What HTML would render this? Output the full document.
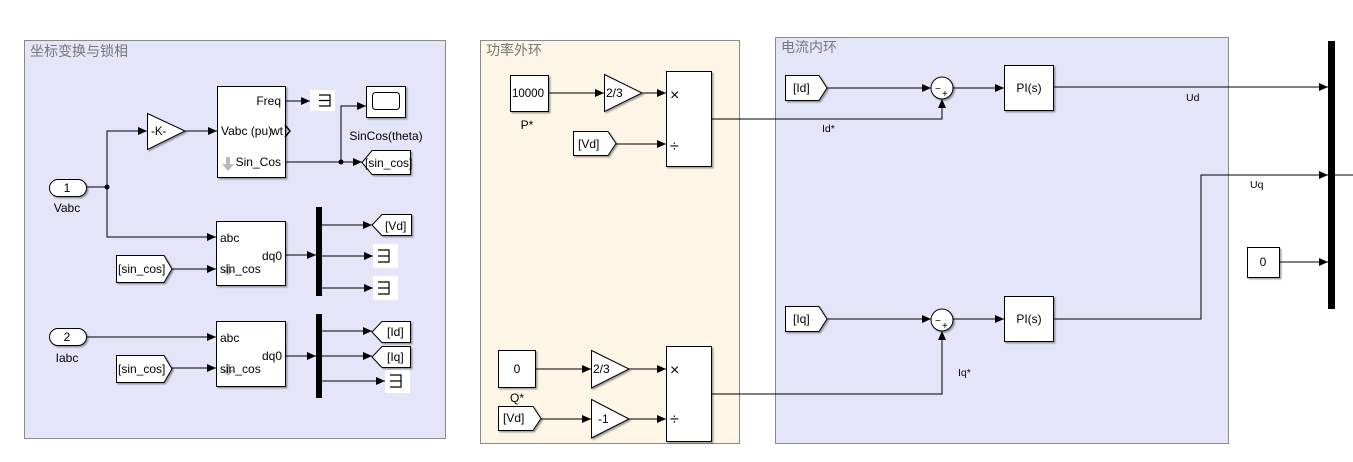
<!DOCTYPE html>
<html><head><meta charset="utf-8"><style>
html,body{margin:0;padding:0;background:#fff;}
svg{display:block;font-family:"Liberation Sans","Noto Sans CJK SC",sans-serif;}
</style></head><body>
<svg width="1353" height="462" viewBox="0 0 1353 462" xmlns="http://www.w3.org/2000/svg">
<defs>
<marker id="a" markerWidth="9" markerHeight="8" refX="9" refY="4" orient="auto" markerUnits="userSpaceOnUse"><path d="M0,0 L9,4 L0,8 z" fill="#000"/></marker>
<filter id="sh" x="-10%" y="-10%" width="130%" height="130%"><feDropShadow dx="1.5" dy="1.5" stdDeviation="0.8" flood-color="#000" flood-opacity="0.35"/></filter>
</defs>
<rect x="24.5" y="40.5" width="421" height="398" fill="#e5e5fa" stroke="#8a8a8a"/>
<text x="30" y="56" font-size="14" fill="#777">坐标变换与锁相</text>
<rect x="480.5" y="40.5" width="259" height="403" fill="#fdf5e6" stroke="#8a8a8a"/>
<text x="486" y="55" font-size="14" fill="#777">功率外环</text>
<rect x="775.5" y="37.5" width="453" height="406" fill="#e5e5fa" stroke="#8a8a8a"/>
<text x="781" y="52" font-size="14" fill="#777">电流内环</text>

<g stroke="#000" stroke-width="1" fill="none">
<path d="M86,187 H107 V131 H147" marker-end="url(#a)"/>
<path d="M107,187 V237 H216" marker-end="url(#a)"/>
<path d="M185,131 H217" marker-end="url(#a)"/>
<path d="M285,101 H310" marker-end="url(#a)"/>
<path d="M285,162 H362" marker-end="url(#a)"/>
<path d="M341,162 V106 H366" marker-end="url(#a)"/>
<path d="M172,269 H216" marker-end="url(#a)"/>
<path d="M285,255 H316" marker-end="url(#a)"/>
<path d="M322,225 H372" marker-end="url(#a)"/>
<path d="M322,256 H373" marker-end="url(#a)"/>
<path d="M322,288 H373" marker-end="url(#a)"/>
<path d="M86,337 H216" marker-end="url(#a)"/>
<path d="M172,368 H216" marker-end="url(#a)"/>
<path d="M285,356 H316" marker-end="url(#a)"/>
<path d="M322,331 H372" marker-end="url(#a)"/>
<path d="M322,356 H372" marker-end="url(#a)"/>
<path d="M322,381 H385" marker-end="url(#a)"/>
<path d="M548,93 H604" marker-end="url(#a)"/>
<path d="M642,93 H666" marker-end="url(#a)"/>
<path d="M616,144 H666" marker-end="url(#a)"/>
<path d="M711,119 H942 V99" marker-end="url(#a)"/>
<path d="M535,369 H591" marker-end="url(#a)"/>
<path d="M629,369 H666" marker-end="url(#a)"/>
<path d="M541,419 H591" marker-end="url(#a)"/>
<path d="M629,419 H666" marker-end="url(#a)"/>
<path d="M711,394 H942 V331" marker-end="url(#a)"/>
<path d="M827,88 H931" marker-end="url(#a)"/>
<path d="M953,88 H1004" marker-end="url(#a)"/>
<path d="M1053,87 H1328" marker-end="url(#a)"/>
<path d="M827,319 H931" marker-end="url(#a)"/>
<path d="M953,319 H1004" marker-end="url(#a)"/>
<path d="M1053,319 H1201 V175 H1328" marker-end="url(#a)"/>
<path d="M1335,175 H1353"/>
<path d="M1279,262 H1328" marker-end="url(#a)"/>
</g>
<circle cx="107" cy="187" r="2.5"/>
<circle cx="341" cy="162" r="2.5"/>

<g fill="#fff" stroke="#000" stroke-width="1" filter="url(#sh)">
<rect x="49.5" y="179.5" width="37" height="17" rx="8.5"/>
<rect x="49.5" y="328.5" width="37" height="17" rx="8.5"/>
<path d="M147.5,113.5 L185,131 L147.5,149.5 z"/>
<rect x="217.5" y="86.5" width="68" height="91"/>
<rect x="366.5" y="86.5" width="39" height="31"/>
<path d="M372,150.5 H410.5 V174.5 H372 L362,162.5 z"/>
<rect x="216.5" y="221.5" width="69" height="64"/>
<rect x="216.5" y="321.5" width="69" height="65"/>
<path d="M116.5,255.5 H164 L172,269 L164,282.5 H116.5 z"/>
<path d="M116.5,355.5 H164 L172,369 L164,382.5 H116.5 z"/>
<path d="M382,214.5 H411.5 V235.5 H382 L372,225 z"/>
<path d="M382,321.5 H410.5 V342.5 H382 L372,332 z"/>
<path d="M382,346.5 H410.5 V367.5 H382 L372,357 z"/>
<rect x="510.5" y="75.5" width="38" height="36"/>
<path d="M604.5,74.5 L642,93 L604.5,111.5 z"/>
<rect x="666.5" y="71.5" width="45" height="95"/>
<path d="M573.5,131.5 H608 L616,143.5 L608,155.5 H573.5 z"/>
<rect x="498.5" y="350.5" width="37" height="37"/>
<path d="M591.5,350.5 L629,369 L591.5,388 z"/>
<path d="M498.5,406.5 H533 L541,418.5 L533,430.5 H498.5 z"/>
<path d="M591.5,399.5 L629,419 L591.5,438 z"/>
<rect x="666.5" y="346.5" width="45" height="95"/>
<path d="M785.5,75.5 H819 L827,88 L819,100.5 H785.5 z"/>
<path d="M785.5,306.5 H819 L827,319 L819,331.5 H785.5 z"/>
<circle cx="942" cy="88" r="11"/>
<circle cx="942" cy="320" r="11"/>
<rect x="1004.5" y="65.5" width="49" height="45"/>
<rect x="1004.5" y="296.5" width="49" height="45"/>
<rect x="1247.5" y="247.5" width="32" height="30"/>
</g>
<rect x="372.5" y="92.5" width="27" height="17" rx="3" fill="#fff" stroke="#000"/>
<rect x="316" y="207" width="6" height="89" fill="#000"/>
<rect x="316" y="314" width="6" height="84" fill="#000"/>
<rect x="1328" y="41" width="7" height="268" fill="#000"/>
<g fill="#fff"><rect x="310" y="90" width="25" height="21"/><rect x="373" y="244" width="25" height="24"/><rect x="373" y="276" width="25" height="24"/><rect x="385" y="370" width="25" height="23"/></g>
<g stroke="#000" fill="none" stroke-width="1.2">
<path d="M319,95 H330 V106 H319 M319,100.5 H330"/>
<path d="M378,250 H389 V262 H378 M378,256 H389"/>
<path d="M378,282 H389 V294 H378 M378,288 H389"/>
<path d="M390,375 H401 V387 H390 M390,381 H401"/>
</g>
<path d="M285,125 L290,131 L285,137" fill="none" stroke="#000" stroke-width="1.5"/>
<g fill="#bbb"><path d="M226,157 h4 v7 h4 l-6,7 l-6,-7 h4z"/><path d="M226,264 h4 v6 h4 l-6,6 l-6,-6 h4z"/><path d="M226,364 h4 v6 h4 l-6,6 l-6,-6 h4z"/></g>

<g font-size="12" fill="#000">
<text x="67" y="192" text-anchor="middle">1</text>
<text x="67" y="212" text-anchor="middle">Vabc</text>
<text x="67" y="341" text-anchor="middle">2</text>
<text x="67" y="362" text-anchor="middle">Iabc</text>
<text x="151" y="135" font-size="11.5">-K-</text>
<text x="281" y="105" text-anchor="end">Freq</text>
<text x="221" y="135">Vabc (pu)</text>
<text x="283" y="135" text-anchor="end">wt</text>
<text x="281" y="166" text-anchor="end">Sin_Cos</text>
<text x="386" y="140" text-anchor="middle">SinCos(theta)</text>
<text x="365" y="167">[sin_cos]</text>
<text x="220" y="242">abc</text>
<text x="282" y="260" text-anchor="end">dq0</text>
<text x="220" y="273">sin_cos</text>
<text x="220" y="342">abc</text>
<text x="282" y="360" text-anchor="end">dq0</text>
<text x="220" y="373">sin_cos</text>
<text x="118" y="273">[sin_cos]</text>
<text x="118" y="373">[sin_cos]</text>
<text x="385" y="230">[Vd]</text>
<text x="387" y="336">[Id]</text>
<text x="387" y="361">[Iq]</text>
<text x="512" y="97" font-size="11.5">10000</text>
<text x="527" y="129" text-anchor="middle">P*</text>
<text x="606" y="97">2/3</text>
<text x="670" y="100" font-size="16">×</text>
<text x="670" y="151" font-size="16">÷</text>
<text x="578" y="148">[Vd]</text>
<text x="822" y="132" font-size="10.5">Id*</text>
<text x="517" y="373" text-anchor="middle">0</text>
<text x="517" y="402" text-anchor="middle">Q*</text>
<text x="593" y="373">2/3</text>
<text x="598" y="423">-1</text>
<text x="503" y="422">[Vd]</text>
<text x="670" y="375" font-size="16">×</text>
<text x="670" y="424" font-size="16">÷</text>
<text x="958" y="376" font-size="10.5">Iq*</text>
<text x="793" y="92">[Id]</text>
<text x="793" y="323">[Iq]</text>
<text x="1029" y="92" text-anchor="middle">PI(s)</text>
<text x="1029" y="323" text-anchor="middle">PI(s)</text>
<text x="1186" y="101" font-size="10.5">Ud</text>
<text x="1250" y="188" font-size="10.5">Uq</text>
<text x="1263" y="266" text-anchor="middle">0</text>
</g>
<g font-size="10" fill="#000">
<text x="935" y="92">−</text><text x="942" y="97">+</text>
<text x="935" y="324">−</text><text x="942" y="329">+</text>
</g>
</svg>
</body></html>
